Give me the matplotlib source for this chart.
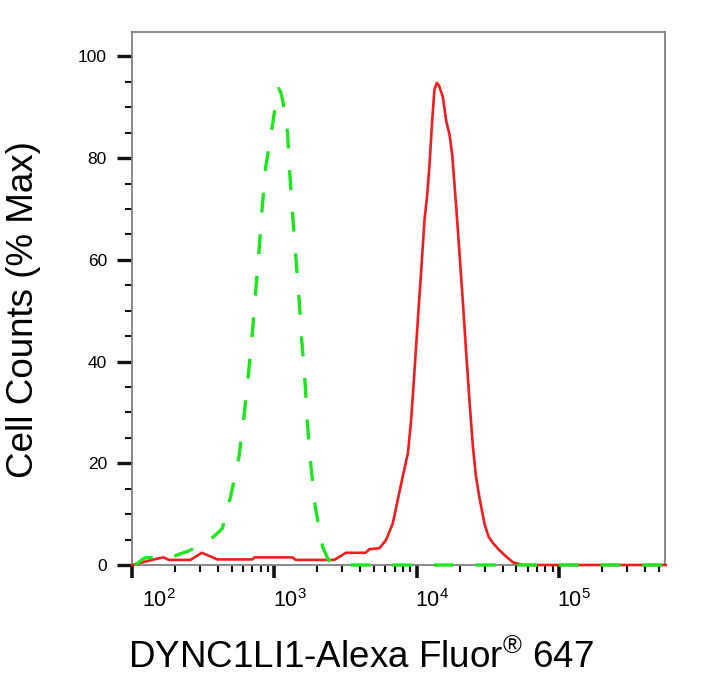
import numpy as np
import matplotlib
matplotlib.use("Agg")
import matplotlib.pyplot as plt
import matplotlib.transforms as mtransforms
from matplotlib.ticker import FixedLocator, NullFormatter

plt.rcParams['font.family'] = ['Liberation Sans', 'DejaVu Sans']
plt.rcParams['mathtext.fontset'] = 'custom'
plt.rcParams['mathtext.rm'] = 'Liberation Sans'
plt.rcParams['mathtext.it'] = 'Liberation Sans:italic'

# isotype control (green, dashed)
ctrl_x = [105, 123, 160, 200, 251, 300, 339, 386, 431, 492, 564, 611, 656, 700,
          738, 780, 822, 869, 968, 1030, 1067, 1100, 1138, 1236, 1282, 1340, 1413,
          1489, 1556, 1641, 1706, 1803, 1932, 2178, 2360, 2500, 3000, 10000, 100000,
          560000]
ctrl_y = [0, 1.4, 1.5, 1.8, 2.8, 3.8, 4.6, 5.9, 7.2, 13.4, 21.3, 29.1, 37.3, 45.6,
          53.7, 61.9, 70.4, 78.3, 86.4, 91.5, 93.7, 93.2, 91.7, 85.1, 77, 69.1, 60.6,
          52.4, 44.2, 36, 27.8, 19.6, 11.5, 3.6, 1.4, 0.3, 0, 0, 0,
          0]

# DYNC1LI1 stained sample (red)
dync_x = [100, 138, 166, 182, 257, 309, 398, 700, 725, 1340, 1413, 2630, 3180, 4365,
          4645, 5460, 6080, 6780, 7350, 7960, 8650, 9120, 9640, 10160, 10740, 11320,
          11800, 12270, 12820, 13300, 13830, 14290, 15240, 16070, 17000, 17740, 18840,
          19950, 21090, 22230, 23500, 24770, 26000, 27610, 29920, 32000, 34280, 38020,
          42660, 47420, 56230, 560000]
dync_y = [0, 1, 1.5, 1, 1, 2.4, 1.1, 1.1, 1.5, 1.5, 1, 1, 2.4, 2.4,
          3.1, 3.3, 4.9, 8.2, 12.8, 17.4, 21.9, 28.5, 38.3, 48.1, 58, 67.8,
          72.5, 78.5, 87.4, 93.5, 94.8, 94.3, 92.0, 87.4, 84.5, 80.5, 71,
          61.2, 51.4, 41.6, 31.8, 23.2, 17.5, 13.0, 8.0, 5.5, 4.3, 2.9,
          1.6, 0.5, 0, 0]

y_ticks = [0, 20, 40, 60, 80, 100]
x_ticks = [1e2, 1e3, 1e4, 1e5]
x_labels = [r'$\mathregular{10^{2}}$', r'$\mathregular{10^{3}}$',
            r'$\mathregular{10^{4}}$', r'$\mathregular{10^{5}}$']

fig = plt.figure(figsize=(7.02, 6.81), dpi=100)
ax = fig.add_axes([132 / 702, 116 / 681, 533 / 702, 533 / 681])

ax.plot(dync_x, dync_y, color='#f01e1e', lw=1.9, clip_on=False, zorder=3)
ax.plot(ctrl_x, ctrl_y, color='#1ee61e', lw=2.4, dashes=(6, 6.5),
        clip_on=False, zorder=4)

ax.set_xscale('log')
ax.set_xlim(100, 5.53e5)
ax.set_ylim(0, 104.8)

for s in ax.spines.values():
    s.set_color('#808080')
    s.set_linewidth(1.3)

ax.yaxis.set_major_locator(FixedLocator(y_ticks))
ax.yaxis.set_minor_locator(FixedLocator(np.arange(0, 105, 5)))
ax.set_yticklabels([str(t) for t in y_ticks])
ax.tick_params(axis='y', which='major', direction='out', length=11, width=2.4,
               color='#111111', labelsize=12.5, pad=7)
ax.tick_params(axis='y', which='minor', direction='out', length=5, width=1.5,
               color='#111111')

minor_x = [m * 10 ** e for e in range(2, 6) for m in range(2, 10)]
ax.xaxis.set_major_locator(FixedLocator(x_ticks))
ax.xaxis.set_minor_locator(FixedLocator([v for v in minor_x if v < 5.53e5]))
ax.xaxis.set_minor_formatter(NullFormatter())
ax.set_xticklabels(x_labels)
ax.tick_params(axis='x', which='major', direction='out', length=9, width=2.6,
               color='#111111', labelsize=15.5, pad=8)
ax.tick_params(axis='x', which='minor', direction='out', length=5, width=1.5,
               color='#111111')
for i, lab in enumerate(ax.get_xticklabels()):
    dx = 27 if i == 0 else 15
    lab.set_transform(lab.get_transform() +
                      mtransforms.ScaledTranslation(dx / 100, 0, fig.dpi_scale_trans))

fig.text(24 / 702, 1 - 310 / 681, 'Cell Counts (% Max)', rotation=90,
         ha='center', va='center', fontsize=26.5)
fig.text(361 / 702, 1 - 668 / 681,
         r'DYNC1LI1-Alexa Fluor$^{\mathregular{®}}$ 647',
         ha='center', va='baseline', fontsize=26.5)

fig.savefig('out.png', dpi=100)
